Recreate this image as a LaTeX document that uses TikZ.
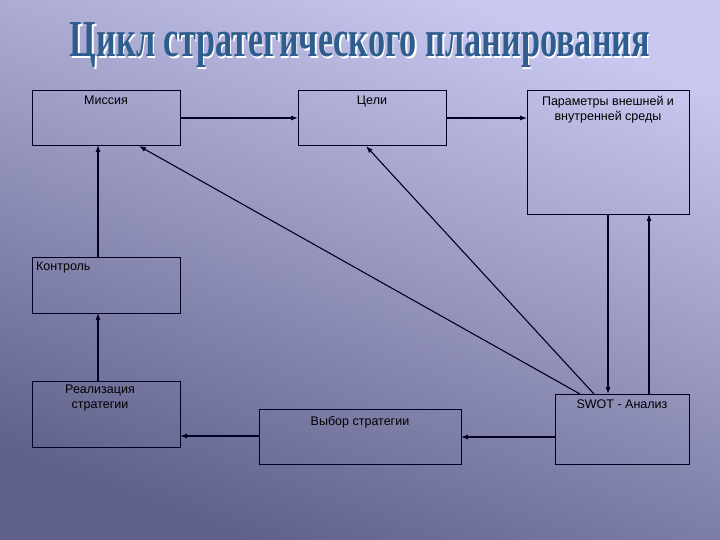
\documentclass[tikz,border=0pt]{standalone}
\usepackage{fontspec}
\setmainfont{Liberation Sans}
\newfontfamily\titlefont{Liberation Serif}
\usetikzlibrary{arrows.meta}
\definecolor{bgtop}{HTML}{C8C8F0}
\definecolor{bgbot}{HTML}{60618A}
\definecolor{titleblue}{HTML}{2F5E8E}
\tikzset{
  box/.style={draw=black!85!blue,line width=0.9pt},
  lbl/.style={anchor=north,align=center,font=\fontsize{12.5}{15}\selectfont,inner sep=0pt},
  arr/.style={-{Latex[length=7pt,width=5pt]},line width=1.1pt,black!85!blue},
}
\begin{document}
\begin{tikzpicture}[x=1pt,y=-1pt]
\shade[top color=bgtop,bottom color=bgbot,shading angle=-20] (0,0) rectangle (720,540);
\useasboundingbox (0,0) rectangle (720,540);
\node[white,anchor=base,inner sep=0pt] (tshadow) at (361.5,58.5) {\resizebox{580pt}{34pt}{\titlefont\bfseries Цикл стратегического планирования}};
\node[titleblue,anchor=base,inner sep=0pt] (title) at (360,57) {\resizebox{580pt}{34pt}{\titlefont\bfseries Цикл стратегического планирования}};
% boxes
\draw[box] (32,90) rectangle (180,145);
\draw[box] (298,90) rectangle (446,145);
\draw[box] (527,90) rectangle (689,214);
\draw[box] (32,257) rectangle (180,313);
\draw[box] (32,381) rectangle (180,447);
\draw[box] (259,409) rectangle (461,464);
\draw[box] (555,394) rectangle (689,464);
\node[lbl] (t1) at (106,96) {Миссия};
\node[lbl] (t2) at (372,96) {Цели};
\node[lbl] (t3) at (608,96) {Параметры внешней и\\внутренней среды};
\node[lbl,anchor=north west] (t4) at (36,262) {Контроль};
\node[lbl] (t5) at (100,385) {Реализация\\стратегии};
\node[lbl] (t6) at (360,416) {Выбор стратегии};
\node[lbl] (t7) at (622,400) {SWOT - Анализ};
% connector endpoints
\coordinate (misR) at (180,118); \coordinate (celL) at (298,118);
\coordinate (celR) at (446,118); \coordinate (parL) at (527,118);
\coordinate (parB1) at (608,214); \coordinate (swT1) at (608,394);
\coordinate (swT2) at (649,394); \coordinate (parB2) at (649,214);
\coordinate (swL) at (555,437); \coordinate (vyR) at (461,437);
\coordinate (vyL) at (259,436); \coordinate (reR) at (180,436);
\coordinate (reT) at (98,381); \coordinate (koB) at (98,313);
\coordinate (koT) at (98,257); \coordinate (misB) at (98,145);
\coordinate (swA) at (580,394); \coordinate (misB2) at (139,146);
\coordinate (swB) at (594,394); \coordinate (celB) at (366,146);
\draw[arr] (misR) -- (celL);
\draw[arr] (celR) -- (parL);
\draw[arr] (parB1) -- (swT1);
\draw[arr] (swT2) -- (parB2);
\draw[arr] (swL) -- (vyR);
\draw[arr] (vyL) -- (reR);
\draw[arr] (reT) -- (koB);
\draw[arr] (koT) -- (misB);
\draw[arr] (swA) -- (misB2);
\draw[arr] (swB) -- (celB);
\end{tikzpicture}
\end{document}
